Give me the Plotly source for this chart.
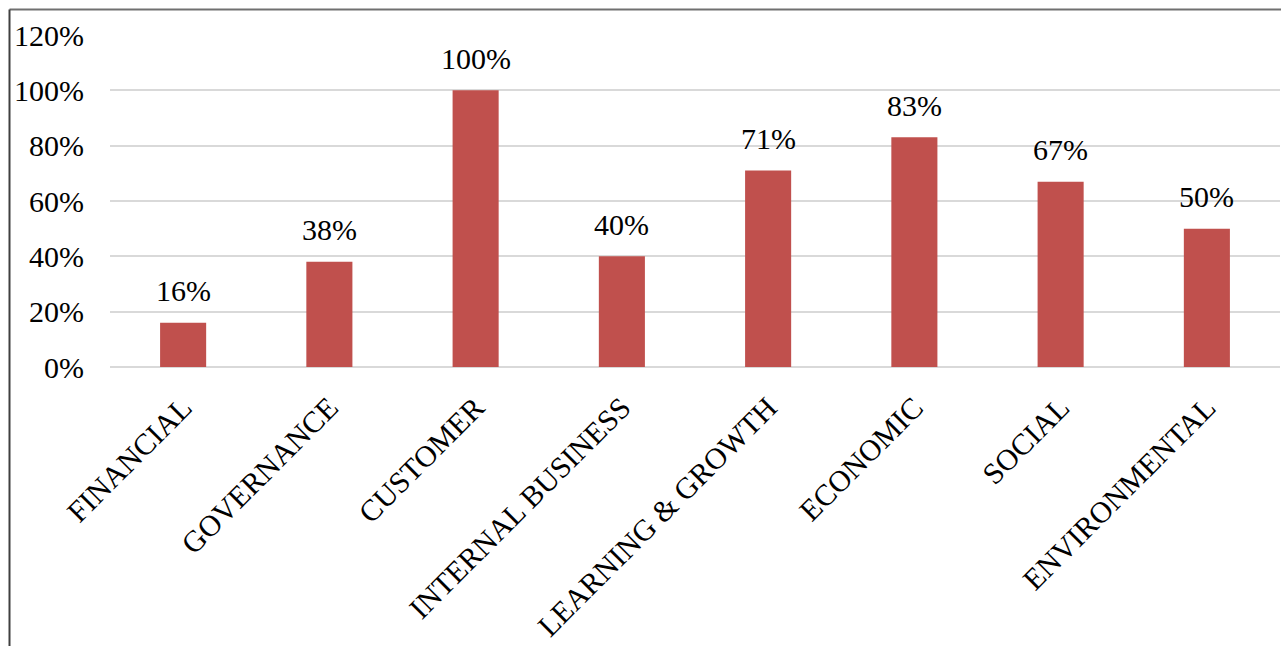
import plotly.graph_objects as go

categories = ["FINANCIAL", "GOVERNANCE", "CUSTOMER", "INTERNAL BUSINESS",
              "LEARNING & GROWTH", "ECONOMIC", "SOCIAL", "ENVIRONMENTAL"]
values = [0.16, 0.38, 1.00, 0.40, 0.71, 0.83, 0.67, 0.50]
y_ticks = [0, 0.2, 0.4, 0.6, 0.8, 1.0, 1.2]
y_tick_labels = ["0%", "20%", "40%", "60%", "80%", "100%", "120%"]

FONT = "Liberation Serif, Times New Roman, serif"
BAR = "#C0504D"
FS = 30

W, H = 1281, 646
L, R, T, B = 110, 1, 35, 279

fig = go.Figure()
fig.add_trace(go.Bar(
    x=categories, y=values,
    marker=dict(color=BAR, line=dict(width=0)),
    width=0.315,
    textposition="none",
    hoverinfo="skip",
))

for c, v in zip(categories, values):
    fig.add_annotation(x=c, y=v, text=f"{round(v*100)}%", showarrow=False,
                       yanchor="middle", yshift=32,
                       font=dict(family=FONT, size=FS, color="#000000"))

pw = W - L - R
ph = H - T - B
px = lambda X: (X - L) / pw
py = lambda Y: (H - B - Y) / ph

fig.add_shape(type="line", xref="paper", yref="paper",
              x0=px(9.5), x1=px(1281), y0=py(9.5), y1=py(9.5),
              line=dict(color="#707070", width=2))
fig.add_shape(type="line", xref="paper", yref="paper",
              x0=px(9.5), x1=px(9.5), y0=py(9.5), y1=py(646),
              line=dict(color="#404040", width=2))

fig.update_layout(
    width=W, height=H,
    margin=dict(l=L, r=R, t=T, b=B, autoexpand=False),
    paper_bgcolor="white", plot_bgcolor="white",
    showlegend=False,
    font=dict(family=FONT, size=FS, color="#000000"),
    xaxis=dict(showgrid=False, showline=False, ticks="", tickangle=-45,
               tickfont=dict(family=FONT, size=FS, color="#000000"),
               ticklabelstandoff=16, fixedrange=True),
    yaxis=dict(range=[0, 1.2], tickvals=y_ticks, ticktext=y_tick_labels,
               showgrid=True, gridcolor="#D9D9D9", gridwidth=2,
               zeroline=True, zerolinecolor="#D9D9D9", zerolinewidth=2,
               showline=False, ticks="",
               tickfont=dict(family=FONT, size=FS, color="#000000"),
               ticklabelstandoff=25, fixedrange=True),
)

fig.write_html("out.html")
